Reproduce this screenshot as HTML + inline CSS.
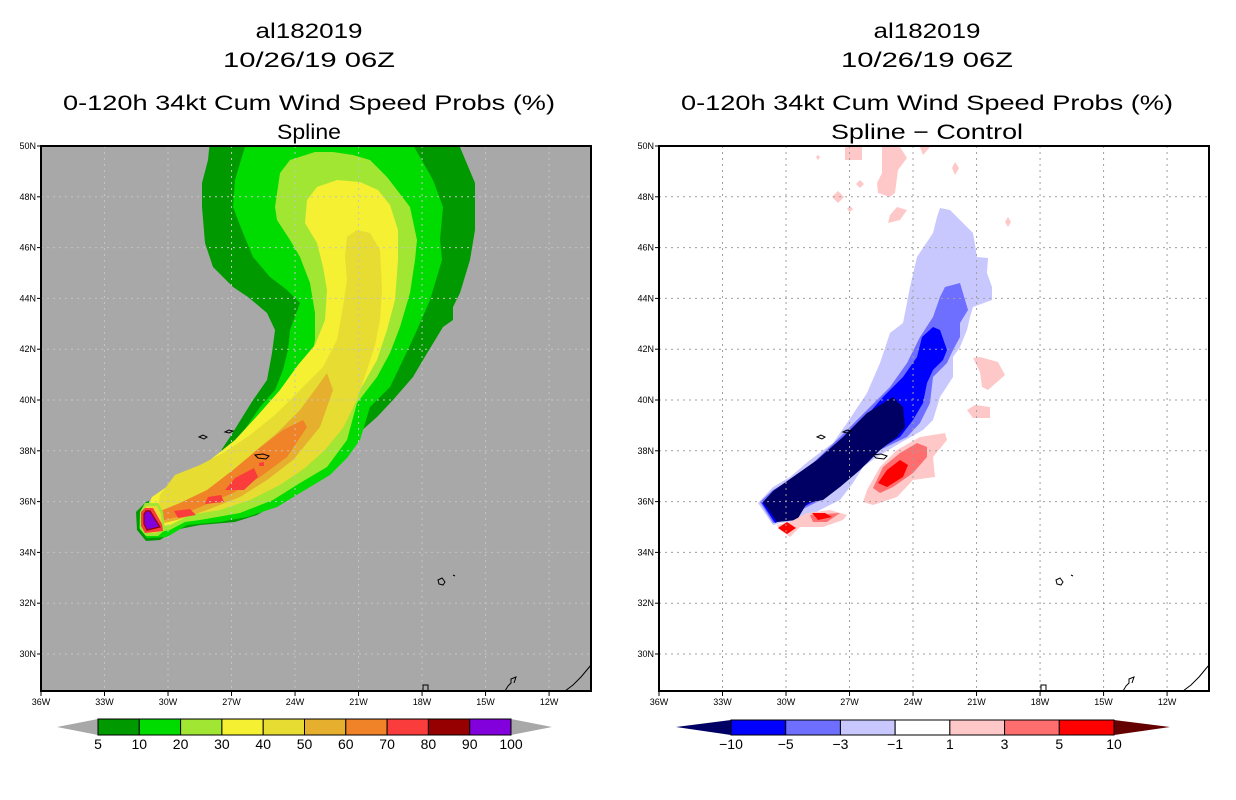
<!DOCTYPE html>
<html><head><meta charset="utf-8"><style>
html,body{margin:0;padding:0;background:#fff;}
svg{display:block;}
text{font-family:"Liberation Sans",sans-serif;fill:#000;}
</style></head><body>
<svg id="fig" width="1236" height="800" viewBox="0 0 1236 800">
<!-- ===== LEFT PANEL ===== -->
<g font-size="21" text-anchor="middle">
<text x="309" y="38" textLength="107" lengthAdjust="spacingAndGlyphs">al182019</text>
<text x="309" y="67" textLength="172" lengthAdjust="spacingAndGlyphs">10/26/19 06Z</text>
<text x="309" y="110" textLength="492" lengthAdjust="spacingAndGlyphs">0-120h 34kt Cum Wind Speed Probs (%)</text>
<text x="309" y="139" textLength="64" lengthAdjust="spacingAndGlyphs">Spline</text>
</g>
<g>
<clipPath id="clipL"><rect x="41" y="146" width="550" height="545"/></clipPath>
<rect x="41" y="146" width="550" height="545" fill="#a8a8a8"/>
<g clip-path="url(#clipL)">
<polygon fill="#009a00" points="210,140 457,140 475,183 475,230 470,260 460,293 453,307 453,320 443,327 423,360 413,377 393,400 377,417 360,432 343,450 320,470 300,485 283,500 257,515 235,522 200,525 175,530 160,540 146,541 137,530 136,512 146,502 160,497 175,490 190,480 210,467 230,437 253,400 267,380 272,353 275,330 267,313 248,297 233,287 213,267 205,243 202,207 202,183 208,160"/>
<polygon fill="#00dc00" points="247,140 410,140 420,157 433,180 443,207 440,240 442,260 430,300 417,330 403,360 390,387 370,407 360,440 347,458 330,475 300,493 277,507 247,517 220,522 187,525 167,537 147,538 139,528 140,512 147,503 167,497 190,483 210,473 233,447 260,407 275,390 283,370 288,350 290,330 300,303 287,290 270,277 253,257 243,233 233,207 235,180"/>
<polygon fill="#a0e632" points="315,152 333,152 353,155 370,160 387,177 397,190 410,207 417,240 415,260 410,293 400,327 390,353 377,377 357,403 347,440 327,467 300,483 273,500 240,513 200,520 185,522 170,530 155,533 145,528 143,515 150,505 160,496 170,490 185,482 210,470 235,455 257,435 280,415 300,390 310,367 315,340 315,313 310,283 300,257 290,240 277,220 275,207 280,173 290,160"/>
<polygon fill="#f5f032" points="337,180 360,182 378,190 390,205 398,230 398,260 395,300 387,330 377,360 360,390 345,415 330,440 305,462 280,483 250,497 220,507 190,515 170,525 155,527 147,520 148,505 152,497 165,488 185,475 210,460 235,440 258,415 280,390 298,365 315,345 325,320 327,290 323,267 317,243 305,223 307,200 317,187"/>
<polygon fill="#e6dc32" points="357,230 370,233 380,250 382,290 380,320 375,345 367,370 357,400 343,428 325,450 305,468 280,485 250,500 220,510 190,515 165,519 158,508 160,495 175,475 200,465 225,452 250,435 275,415 300,390 323,367 337,340 343,307 347,280 345,257 347,237"/>
<polygon fill="#e6af2d" points="327,373 333,390 320,427 293,460 267,480 240,497 207,510 177,520 160,524 158,512 167,510 187,503 210,493 233,473 253,453 277,433 300,410 317,387"/>
<polygon fill="#f08228" points="303,420 307,427 287,457 260,477 233,493 200,507 177,517 160,521 158,512 180,503 207,490 233,470 257,450 283,430"/>
<polygon fill="#fa3c3c" points="235,478 254,468 258,477 244,490 225,490"/>
<polygon fill="#fa3c3c" points="208,497 221,495 224,502 205,504"/>
<polygon fill="#fa3c3c" points="174,511 190,509 196,515 178,518"/>
<polygon fill="#fa3c3c" points="259,463 264,462 264,466 259,466"/>
<polygon fill="#a0e632" points="145,503 158,503 163,512 165,530 158,536 146,536 140,529 140,512"/>
<polygon fill="#e6dc32" points="146,506 157,506 161,514 162,530 156,533 146,533 143,527 143,513"/>
<polygon fill="#fa3c3c" points="145,508 153,508 162,524 163,531 145,533 141,526 141,512"/>
<polygon fill="#8200dc" stroke="#960000" stroke-width="1.2" points="146,511 150,511 160,527 147,530 144,524 144,514"/>
</g>
<g id="gridL" clip-path="url(#clipL)"></g>
<g fill="none" stroke="#000" stroke-width="1">
<path d="M199,437 l4,-2 l4,2 l-3,2 z M225,432 l4,-2 l4,1 l-4,2 z M255,455 l8,-1 l6,2 l-3,3 l-8,-1 z M438,580 l4,-2 l3,4 l-2,3 l-4,-1 z M453,575 l2,1 M423,691 l0,-6 l5,0 l0,6 M505,691 l3,-5 l3,-3 l0,-4 l5,-2 l-2,6 M565,691 l8,-6 l8,-8 l10,-12"/>
</g>
<rect x="41" y="146" width="550" height="545" fill="none" stroke="#000" stroke-width="2"/>
<g id="axesL" font-size="9"></g>
</g>
<g>
<polygon points="57,727 98,719 98,735" fill="#a8a8a8"/>
<polygon points="552,727 511,719 511,735" fill="#a8a8a8"/>
<g id="cbarL"></g>
</g>
<!-- ===== RIGHT PANEL ===== -->
<g font-size="21" text-anchor="middle">
<text x="927" y="38" textLength="107" lengthAdjust="spacingAndGlyphs">al182019</text>
<text x="927" y="67" textLength="172" lengthAdjust="spacingAndGlyphs">10/26/19 06Z</text>
<text x="927" y="110" textLength="492" lengthAdjust="spacingAndGlyphs">0-120h 34kt Cum Wind Speed Probs (%)</text>
<text x="927" y="139" textLength="192" lengthAdjust="spacingAndGlyphs">Spline − Control</text>
</g>
<g>
<clipPath id="clipR"><rect x="659" y="146" width="550" height="545"/></clipPath>
<rect x="659" y="146" width="550" height="545" fill="#fff"/>
<g clip-path="url(#clipR)">
<polygon fill="#c8c8ff" points="940,208 950,210 973,233 977,257 988,258 987,273 992,287 992,300 973,307 970,317 967,330 960,347 953,357 953,377 940,397 933,420 923,430 900,443 877,457 863,467 853,483 840,500 820,510 803,520 780,523 773,525 758,503 773,487 790,477 810,460 833,443 847,423 867,393 880,363 890,333 903,323 910,287 917,257 933,233 937,217"/>
<polygon fill="#6e6eff" points="945,287 960,283 968,310 960,323 960,337 953,350 947,363 933,377 930,403 920,423 907,437 880,450 860,463 843,480 827,497 807,507 783,520 773,523 760,502 773,490 790,480 813,463 840,437 867,410 890,387 907,363 920,337 933,317 940,297"/>
<polygon fill="#0000ff" points="933,327 940,330 947,350 943,360 933,370 927,383 923,403 913,420 900,437 883,447 867,463 850,477 830,493 807,505 780,521 775,523 762,503 777,490 793,478 817,463 840,443 863,420 883,397 903,377 917,357 922,337"/>
<polygon fill="#000064" points="893,397 903,407 905,427 897,437 880,450 860,470 840,487 823,500 807,503 797,520 777,522 763,502 773,491 790,479 817,460 843,437 867,413"/>
<polygon fill="#ffc8c8" points="920,437 945,433 947,440 933,457 935,477 913,480 897,497 873,505 863,502 867,490 880,467 897,450"/>
<polygon fill="#ff6e6e" points="917,443 927,447 927,457 913,473 893,487 880,493 873,488 883,467 900,453"/>
<polygon fill="#ff0000" points="900,460 908,465 903,477 887,487 878,483 887,470"/>
<polygon fill="#ffc8c8" points="807,513 830,510 847,515 843,520 823,527 800,527 790,537 780,530 777,525 790,522"/>
<polygon fill="#ff6e6e" points="810,515 840,513 827,522 813,522"/>
<polygon fill="#ff0000" points="812,513 825,513 832,517 818,520"/>
<polygon fill="#ff0000" points="778,528 787,522 796,528 787,534"/>
<polygon fill="#ffc8c8" points="973,358 980,357 998,362 1005,375 988,390 982,387 980,372"/>
<polygon fill="#ffc8c8" points="967,410 975,405 990,407 990,418 973,418"/>
<polygon fill="#ffc8c8" points="845,147 862,147 862,160 845,160"/>
<polygon fill="#ffc8c8" points="882,147 900,147 907,158 898,170 895,193 890,197 878,193 877,183 882,173"/>
<polygon fill="#ffc8c8" points="920,147 930,147 923,155"/>
<polygon fill="#ffc8c8" points="955,162 959,168 955,175 952,168"/>
<polygon fill="#ffc8c8" points="860,180 864,184 860,188 856,184"/>
<polygon fill="#ffc8c8" points="838,191 844,197 838,203 832,197"/>
<polygon fill="#ffc8c8" points="897,207 907,210 900,220 888,223 890,215"/>
<polygon fill="#ffc8c8" points="1008,217 1011,222 1008,227 1005,222"/>
<polygon fill="#ffc8c8" points="850,206 853,209 850,212 847,209"/>
<polygon fill="#ffc8c8" points="818,155 820,157 818,160 816,157"/>
</g>
<g id="gridR" clip-path="url(#clipR)"></g>
<g fill="none" stroke="#000" stroke-width="1">
<path d="M817,437 l4,-2 l4,2 l-3,2 z M843,432 l4,-2 l4,1 l-4,2 z M873,455 l8,-1 l6,2 l-3,3 l-8,-1 z M1056,580 l4,-2 l3,4 l-2,3 l-4,-1 z M1071,575 l2,1 M1041,691 l0,-6 l5,0 l0,6 M1123,691 l3,-5 l3,-3 l0,-4 l5,-2 l-2,6 M1183,691 l8,-6 l8,-8 l10,-12"/>
</g>
<rect x="659" y="146" width="550" height="545" fill="none" stroke="#000" stroke-width="2"/>
<g id="axesR" font-size="9"></g>
</g>
<g>
<polygon points="676,727 731,720 731,735" fill="#000064"/>
<polygon points="1170,727 1114,720 1114,735" fill="#640000"/>
<g id="cbarR"></g>
</g>
</svg>
<script>
const NS = "http://www.w3.org/2000/svg";
const lonTicks = [36, 33, 30, 27, 24, 21, 18, 15, 12];
const latTicks = [50, 48, 46, 44, 42, 40, 38, 36, 34, 32, 30];
const leftLevels = ["5","10","20","30","40","50","60","70","80","90","100"];
const leftColors = ["#009a00","#00dc00","#a0e632","#f5f032","#e6dc32","#e6af2d","#f08228","#fa3c3c","#960000","#8200dc"];
const rightLevels = ["−10","−5","−3","−1","1","3","5","10"];
const rightColors = ["#0000ff","#6e6eff","#c8c8ff","#ffffff","#ffc8c8","#ff6e6e","#ff0000"];

function xLon(lonW, x0) { return x0 + (36 - lonW) * 21.17; }
function yLat(lat) { return 146 + (50 - lat) * 25.4; }
function mk(tag, attrs, parent) {
  const e = document.createElementNS(NS, tag);
  for (const k in attrs) e.setAttribute(k, attrs[k]);
  parent.appendChild(e);
  return e;
}
function drawAxes(x0, gridId, axesId, gridColor) {
  const grid = document.getElementById(gridId);
  const axes = document.getElementById(axesId);
  lonTicks.forEach(function (lw) {
    const x = xLon(lw, x0);
    const gl = mk("line", {x1: x, x2: x, y1: 146, y2: 691, stroke: gridColor, "stroke-width": 1, "stroke-dasharray": "2,4"}, grid);
    
    
    const tk = mk("line", {x1: x, x2: x, y1: 691, y2: 696, stroke: "#000", "stroke-width": 1}, axes);
    
    
    const t = mk("text", {x: x, y: 705, "text-anchor": "middle"}, axes);
    t.textContent = lw + "W";
    
    
  });
  latTicks.forEach(function (la) {
    const y = yLat(la);
    const gl = mk("line", {x1: x0, x2: x0 + 550, y1: y, y2: y, stroke: gridColor, "stroke-width": 1, "stroke-dasharray": "2,4"}, grid);
    
    
    const tk = mk("line", {x1: x0 - 4, x2: x0, y1: y, y2: y, stroke: "#000", "stroke-width": 1}, axes);
    
    
    const t = mk("text", {x: x0 - 5, y: y + 3, "text-anchor": "end"}, axes);
    t.textContent = la + "N";
    
    
  });
}
drawAxes(41, "gridL", "axesL", "#c4c4c4");
drawAxes(659, "gridR", "axesR", "#a0a0a0");

function drawBar(id, x0, x1, y0, h, colors, labels) {
  const g = document.getElementById(id);
  const w = (x1 - x0) / colors.length;
  colors.forEach(function (c, i) {
    const r = mk("rect", {x: x0 + i * w, y: y0, width: w, height: h, fill: c, stroke: "#000", "stroke-width": 1}, g);
    
    
  });
  labels.forEach(function (lab, i) {
    const t = mk("text", {x: x0 + i * w, y: y0 + h + 14, "text-anchor": "middle", "font-size": 14}, g);
    t.textContent = lab;
    
    
  });
}
drawBar("cbarL", 98, 511, 719, 16, leftColors, leftLevels);
drawBar("cbarR", 731, 1114, 720, 15, rightColors, rightLevels);
</script>
</body></html>
